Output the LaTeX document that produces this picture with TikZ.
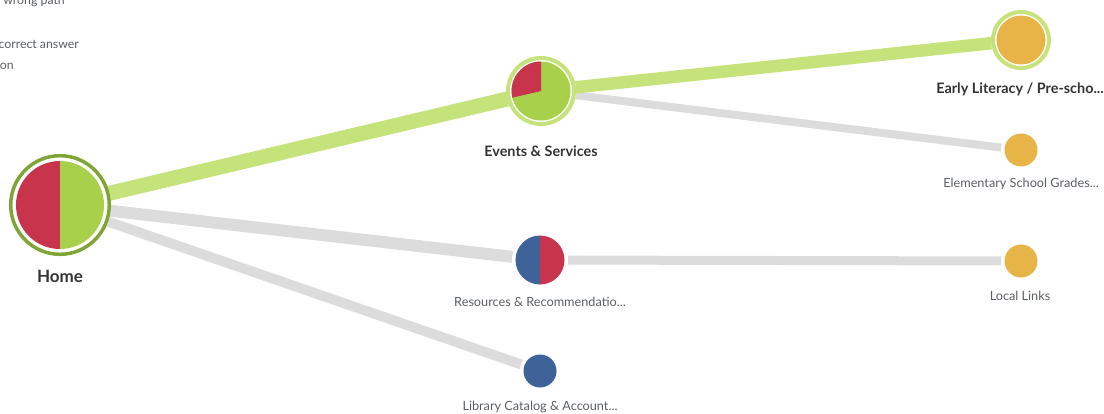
\documentclass[tikz,border=0pt]{standalone}
\usepackage{fontspec}
\setmainfont{Lato}
\usetikzlibrary{backgrounds}
\definecolor{pRed}{HTML}{C8344B}
\definecolor{pGreen}{HTML}{A9D04A}
\definecolor{ringDark}{HTML}{7FA536}
\definecolor{ringLight}{HTML}{C6E27C}
\definecolor{linkGreen}{HTML}{C6E27A}
\definecolor{linkGray}{HTML}{DCDCDC}
\definecolor{pBlue}{HTML}{3E6398}
\definecolor{pGold}{HTML}{E6B447}
\definecolor{txtDark}{HTML}{333333}
\definecolor{txtGray}{HTML}{5A5F66}
\tikzset{
  x=1pt, y=1pt,
  hub/.style={circle, fill=white, inner sep=0pt, minimum size=#1},
  glink/.style={draw=linkGreen, line width=#1},
  ylink/.style={draw=linkGray, line width=#1},
  bigLabel/.style={font=\bfseries\fontsize{14.4}{16}\selectfont, text=txtDark},
  smallLabel/.style={font=\fontsize{12.7}{14}\selectfont, text=txtGray},
  legendText/.style={font=\fontsize{12.3}{14}\selectfont, text=txtGray, anchor=east, inner sep=0pt}
}
\begin{document}
\begin{tikzpicture}
\useasboundingbox (0,-413) rectangle (1104,0);
% nodes (white discs)
\node[hub=102pt] (home) at (60,-205) {};
\node[hub=70pt] (events) at (541,-91) {};
\node[hub=60pt] (early) at (1021,-40) {};
\node[hub=40pt] (elem) at (1021,-150) {};
\node[hub=56pt] (res) at (540,-260) {};
\node[hub=40pt] (local) at (1021,-261) {};
\node[hub=40pt] (lib) at (540,-371) {};
% connectors
\begin{scope}[on background layer]
\draw[ylink=12pt] (home.center) -- (res.center);
\draw[ylink=10pt] (home.center) -- (lib.center);
\draw[ylink=8pt] (events.center) -- (elem.center);
\draw[ylink=9pt] (res.center) -- (local.center);
\draw[glink=15pt] (home.center) -- (events.center);
\draw[glink=12.5pt] (events.center) -- (early.center);
\end{scope}
% Home pie
\draw[ringDark, line width=3.5pt] (home.center) circle[radius=49.3];
\fill[pRed] (home.center) -- ++(90:44) arc[start angle=90, end angle=270, radius=44] -- cycle;
\fill[pGreen] (home.center) -- ++(-90:44) arc[start angle=-90, end angle=90, radius=44] -- cycle;
% Events pie
\draw[ringLight, line width=4pt] (events.center) circle[radius=33];
\fill[pGreen] (events.center) circle[radius=29.5];
\fill[pRed] (events.center) -- ++(90:29.5) arc[start angle=90, end angle=193, radius=29.5] -- cycle;
% Early literacy
\draw[ringLight, line width=4pt] (early.center) circle[radius=28];
\fill[pGold] (early.center) circle[radius=24.5];
% small nodes
\fill[pGold] (elem.center) circle[radius=16.5];
\fill[pBlue] (res.center) -- ++(90:24.5) arc[start angle=90, end angle=270, radius=24.5] -- cycle;
\fill[pRed] (res.center) -- ++(-90:24.5) arc[start angle=-90, end angle=90, radius=24.5] -- cycle;
\fill[pGold] (local.center) circle[radius=16.5];
\fill[pBlue] (lib.center) circle[radius=16.5];
% labels
\node[bigLabel, font=\bfseries\fontsize{17}{19}\selectfont] (homeL) at (60,-276) {Home};
\node[bigLabel] (eventsL) at (541,-151) {Events \& Services};
\node[bigLabel] (earlyL) at (1020,-89) {Early Literacy / Pre-scho...};
\node[smallLabel] (elemL) at (1021,-184) {Elementary School Grades...};
\node[smallLabel] (resL) at (540,-302) {Resources \& Recommendatio...};
\node[smallLabel] (localL) at (1020,-296) {Local Links};
\node[smallLabel] (libL) at (540,-407) {Library Catalog \& Account...};
% legend (cut off at the edges, as in the reference)
\node[legendText] (leg1) at (65,-1) {r wrong path};
\node[legendText] (leg2) at (79,-44) {correct answer};
\node[legendText] (leg3) at (14,-66) {on};
\end{tikzpicture}
\end{document}
